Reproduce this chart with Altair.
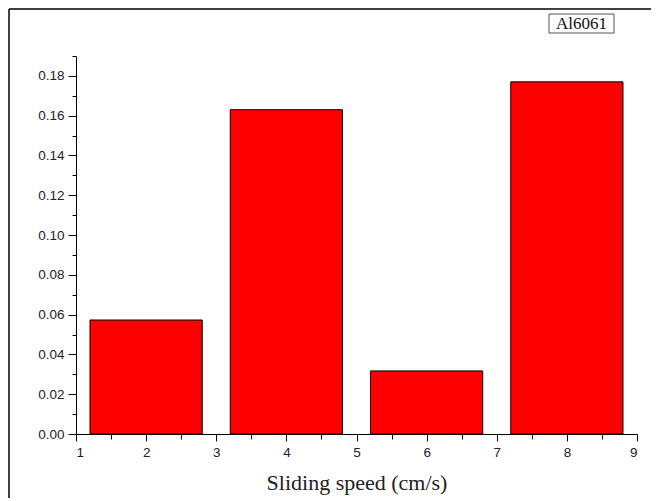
import altair as alt
import pandas as pd

speeds = [2, 4, 6, 8]
wear = [0.0573, 0.163, 0.0317, 0.177]
x_major = [1, 2, 3, 4, 5, 6, 7, 8, 9]
x_minor = [1.5, 2.5, 3.5, 4.5, 5.5, 6.5, 7.5, 8.5]
y_major = [0.00, 0.02, 0.04, 0.06, 0.08, 0.10, 0.12, 0.14, 0.16, 0.18]
y_minor = [0.01, 0.03, 0.05, 0.07, 0.09, 0.11, 0.13, 0.15, 0.17, 0.19]
legend_label = "Al6061"
x_title = "Sliding speed (cm/s)"

df = pd.DataFrame({"speed": speeds, "wear": wear})

W, H = 561, 378
xs = alt.Scale(domain=[1, 9], nice=False, zero=False)
ys = alt.Scale(domain=[0, 0.19], nice=False)

bars = alt.Chart(df).transform_calculate(
    x0="datum.speed - 0.8", x1="datum.speed + 0.8"
).mark_bar(color="#ff0000", stroke="black", strokeWidth=1).encode(
    x=alt.X("x0:Q", scale=xs, axis=alt.Axis(
        values=x_major, format="d", title=x_title, orient="bottom",
        tickSize=7, labelFontSize=13.5, labelFont="Liberation Sans", labelColor="#222",
        titleFont="Liberation Serif", titleFontSize=22, titleFontWeight="normal",
        titleColor="#222", titlePadding=14, labelPadding=4,
        domainColor="black", tickColor="black", grid=False)),
    x2="x1:Q",
    y=alt.Y("wear:Q", scale=ys, axis=alt.Axis(
        values=y_major, format=".2f", title=None, orient="left",
        tickSize=8, labelFontSize=13.5, labelFont="Liberation Sans", labelColor="#222",
        labelPadding=4, domainColor="black", tickColor="black", grid=False)),
    y2=alt.Y2(datum=0),
)

minor_layer = alt.Chart(df).mark_point(opacity=0).encode(
    x=alt.X("speed:Q", scale=xs, axis=alt.Axis(
        values=x_minor, labels=False, title=None, orient="bottom", tickSize=5,
        domain=False, tickColor="black", grid=False)),
    y=alt.Y("wear:Q", scale=ys, axis=alt.Axis(
        values=y_minor, labels=False, title=None, orient="left", tickSize=4,
        domain=False, tickColor="black", grid=False)),
)

box = alt.Chart(df).mark_rect(fill="white", stroke="#555", strokeWidth=1).encode(
    x=alt.value(473), x2=alt.value(538), y=alt.value(-42), y2=alt.value(-23)
).transform_filter("datum.speed == 2")

label = alt.Chart(df).mark_text(
    text=legend_label, font="Liberation Serif", fontSize=17, color="#111",
    align="center", baseline="middle"
).encode(x=alt.value(505.5), y=alt.value(-32)).transform_filter("datum.speed == 2")

frame_top = alt.Chart(df).mark_rule(color="black", strokeWidth=1.5).encode(
    x=alt.value(-67), x2=alt.value(700), y=alt.value(-47)
).transform_filter("datum.speed == 2")
frame_left = alt.Chart(df).mark_rule(color="black", strokeWidth=1.5).encode(
    x=alt.value(-67), y=alt.value(-47), y2=alt.value(600)
).transform_filter("datum.speed == 2")

chart = alt.layer(bars, minor_layer, box, label, frame_top, frame_left).resolve_axis(
    x="independent", y="independent"
).properties(
    width=W, height=H,
    autosize=alt.AutoSizeParams(type="none"),
    padding={"left": 68, "top": 48, "right": 14, "bottom": 64},
    view=alt.ViewBackground(strokeOpacity=0, strokeWidth=0),
).configure_view(strokeOpacity=0, strokeWidth=0).configure(background="white")

chart.save("out.html", embed_options={"renderer": "svg", "actions": False})
